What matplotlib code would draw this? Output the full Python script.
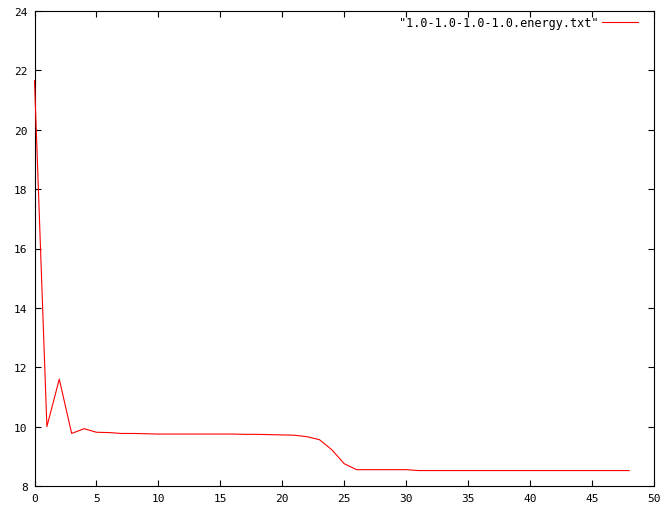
import matplotlib
matplotlib.use("Agg")
import matplotlib.pyplot as plt

# energy per step
steps = list(range(49))
energy = [21.65, 10.0, 11.6, 9.77, 9.93, 9.81, 9.80, 9.77, 9.77, 9.76,
          9.75, 9.75, 9.75, 9.75, 9.75, 9.75, 9.75, 9.74, 9.74, 9.73,
          9.72, 9.71, 9.66, 9.56, 9.22, 8.75, 8.55, 8.55, 8.55, 8.55,
          8.55, 8.52, 8.52, 8.52, 8.52, 8.52, 8.52, 8.52, 8.52, 8.52,
          8.52, 8.52, 8.52, 8.52, 8.52, 8.52, 8.52, 8.52, 8.52]
label = '"1.0-1.0-1.0-1.0.energy.txt"'
xticks = list(range(0, 51, 5))
yticks = list(range(8, 25, 2))

fig = plt.figure(figsize=(6.65, 5.06), dpi=100)
ax = fig.add_axes([34.5 / 665, 19 / 506, 619.5 / 665, 475 / 506])

ax.plot(steps, energy, color="red", lw=0.8, label=label, zorder=3, clip_on=False)

ax.set_xlim(0, 50)
ax.set_ylim(8, 24)
ax.set_xticks(xticks)
ax.set_yticks(yticks)
ax.tick_params(direction="in", length=4, width=0.8, top=True, right=True,
               labelsize=8, pad=5)
for lab in ax.get_xticklabels() + ax.get_yticklabels():
    lab.set_family("DejaVu Sans Mono")
for s in ax.spines.values():
    s.set_linewidth(0.8)

leg = ax.legend(loc="upper right", bbox_to_anchor=(1 - 8 / 619.5, 1 + 3 / 475),
                frameon=False, markerfirst=False,
                handlelength=3.0, handletextpad=0.3, borderaxespad=0.3,
                prop={"family": "DejaVu Sans Mono", "size": 8.5})

fig.savefig("out.png", dpi=100)
